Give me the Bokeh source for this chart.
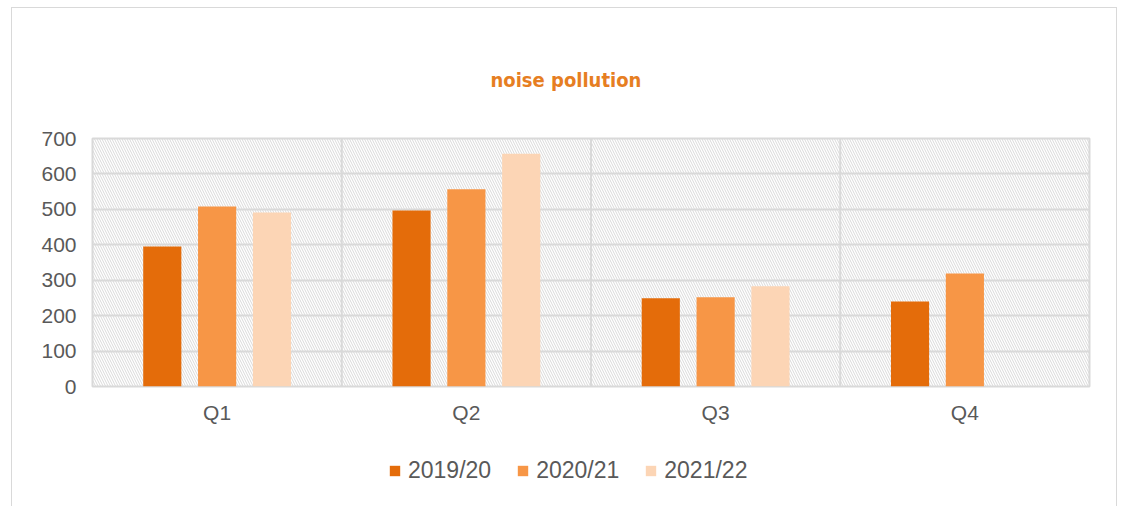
from bokeh.plotting import figure
from bokeh.layouts import column
from bokeh.models import ColumnDataSource, FactorRange, BoxAnnotation, Span, Legend, LegendItem
from bokeh.transform import dodge
from bokeh.embed import file_html
from bokeh.resources import INLINE

categories = ["Q1", "Q2", "Q3", "Q4"]
series_names = ["2019/20", "2020/21", "2021/22"]
v2019 = [395, 497, 249, 240]
v2020 = [508, 557, 252, 319]
v2021 = [491, 657, 283, float("nan")]
colors = ["#E46C0A", "#F79646", "#FCD5B5"]
y_ticks = [0, 100, 200, 300, 400, 500, 600, 700]

src = ColumnDataSource(dict(cat=categories, s0=v2019, s1=v2020, s2=v2021))

p = figure(width=1104, height=418, x_range=FactorRange(*categories, range_padding=0),
           y_range=(0, 700), output_backend="svg", toolbar_location=None,
           min_border_left=80, min_border_right=27, min_border_top=130, min_border_bottom=40)

p.title.text = "noise pollution"
p.title.align = "left"
p.title.text_color = "#E67E22"
p.title.text_font = "DejaVu Sans Condensed"
p.title.text_font_size = "20px"
p.title.text_font_style = "bold"
p.title.standoff = 94
p.title.offset = 398

p.add_layout(BoxAnnotation(fill_alpha=0, line_alpha=0, hatch_pattern="\\", hatch_color="#d9d9d9",
                           hatch_scale=5, hatch_weight=1, level="underlay"))

p.outline_line_color = "#d9d9d9"
p.outline_line_width = 2
p.xgrid.grid_line_color = None
p.ygrid.grid_line_color = "#d9d9d9"
p.ygrid.grid_line_width = 2
p.yaxis.ticker = y_ticks
for loc in [1, 2, 3]:
    p.add_layout(Span(location=loc, dimension="height", line_color="#d9d9d9", line_width=2, level="underlay"))

for ax in (p.xaxis, p.yaxis):
    ax.axis_line_color = None
    ax.major_tick_line_color = None
    ax.minor_tick_line_color = None
    ax.major_label_text_color = "#595959"
    ax.major_label_text_font = "Liberation Sans"
    ax.major_label_text_font_size = "21px"
p.yaxis.major_label_standoff = 10
p.xaxis.major_label_standoff = 8

offsets = [-0.22, 0, 0.22]
for i, col in enumerate(["s0", "s1", "s2"]):
    p.vbar(x=dodge("cat", offsets[i], range=p.x_range), top=col, width=0.153, source=src,
           fill_color=colors[i], line_color=None)

# legend strip (zero-height marks, only their legend swatches show)
p2 = figure(width=1104, height=80, x_range=(0, 1), y_range=(0, 1), output_backend="svg",
            toolbar_location=None, min_border=0)
p2.axis.visible = False
p2.grid.grid_line_color = None
p2.outline_line_color = None
p2.background_fill_color = None
leg_renderers = [p2.vbar(x=[0.5], top=[0], bottom=[0], width=0.01, fill_color=c, line_color=None)
                 for c in colors]
legend = Legend(items=[LegendItem(label=n, renderers=[r]) for n, r in zip(series_names, leg_renderers)],
                orientation="horizontal", location=(296, 22), border_line_color=None,
                background_fill_alpha=0, label_text_font="Liberation Sans", label_text_font_size="23px",
                label_text_color="#595959", glyph_width=13, glyph_height=13, label_standoff=7,
                spacing=25, padding=0, margin=0)
p2.add_layout(legend)

layout = column(p, p2, spacing=0,
                styles={"border": "1px solid #d9d9d9", "margin-left": "11px", "margin-top": "7px"})

open("out.html", "w").write(file_html(layout, INLINE))
